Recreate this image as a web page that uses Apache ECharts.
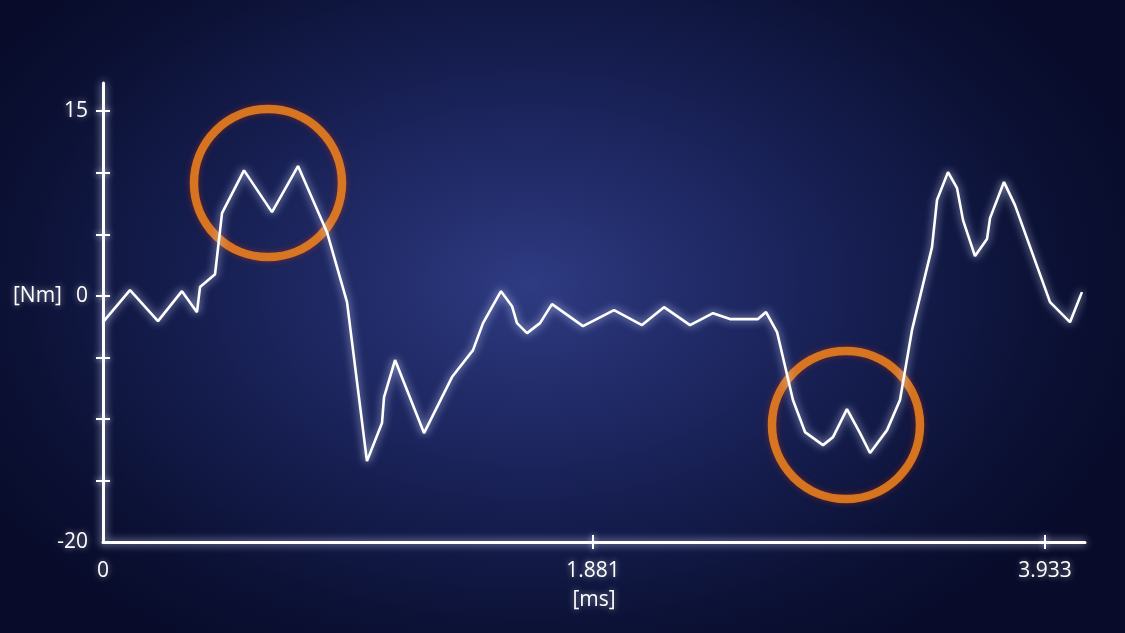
<!DOCTYPE html>
<html><head><meta charset="utf-8">
<script src="https://cdn.jsdelivr.net/npm/echarts@6/dist/echarts.min.js"></script>
<style>
html,body{margin:0;padding:0;width:1125px;height:633px;overflow:hidden;
background: radial-gradient(ellipse 640px 430px at 530px 285px, #2f3b82 0%, #222c6a 25%, #151d4e 55%, #0c1236 80%, #080b2a 100%);}
#c{width:1125px;height:633px;}
</style></head><body><div id="c"></div>
<script>
// sample position along the time window (0..100 % of window)
const samplePos = [0, 2.75, 5.60, 8.04, 9.57, 9.88, 11.41, 12.12, 14.36, 17.21, 19.86, 22.81, 24.85, 26.88, 28.41, 28.62, 29.74, 32.69, 35.54, 37.68, 38.70, 40.53, 41.65, 42.16, 43.18, 44.50, 45.72, 48.88, 52.04, 54.89, 57.13, 59.78, 62.12, 63.85, 66.70, 67.52, 68.64, 70.26, 71.49, 73.32, 74.34, 75.76, 77.09, 78.11, 79.84, 81.16, 82.38, 84.42, 84.93, 86.05, 86.97, 87.58, 88.80, 90.02, 90.33, 91.75, 92.87, 96.44, 98.47, 99.69];
// torque [Nm]
const torque = [-2.14, 0.46, -2.06, 0.38, -1.33, 0.71, 1.76, 6.72, 10.19, 6.80, 10.54, 5.17, -0.51, -13.43, -10.34, -8.23, -5.22, -11.15, -6.60, -4.41, -2.22, 0.38, -0.84, -2.22, -3.03, -2.22, -0.67, -2.46, -1.16, -2.38, -0.92, -2.38, -1.41, -1.89, -1.89, -1.32, -2.94, -8.47, -11.07, -12.13, -11.48, -9.20, -11.15, -12.77, -10.91, -8.47, -2.79, 3.96, 7.78, 10.05, 8.75, 6.15, 3.23, 4.61, 6.31, 9.24, 7.37, -0.51, -2.14, 0.30];

const xTickPos = [49.9, 95.93];
const xLabelPos = [0, 49.9, 95.93];
const xTickLabels = ['0', '1.881', '3.933'];
const yTicks = [-15, -10, -5, 0, 5, 10, 15];
const yLabelValues = [-20, 0, 15];
const yUnit = '[Nm]';
const xUnit = '[ms]';
const highlightCenters = [[16.8, 9.16], [75.66, -10.5]];

const chart = echarts.init(document.getElementById('c'), null, {renderer: 'canvas'});
const FONT = '"Open Sans", "Noto Sans", sans-serif';
const glowLine = {color: '#ffffff', width: 3, shadowBlur: 8, shadowColor: 'rgba(220,225,255,0.9)'};
const tickStyle = {color: '#fff', width: 2, shadowBlur: 6, shadowColor: 'rgba(220,225,255,0.9)'};
const txt = {color: '#ffffff', fontSize: 21, fontFamily: FONT, textShadowColor: 'rgba(255,255,255,0.55)', textShadowBlur: 6};

function xLabel(v) {
  for (let i = 0; i < xLabelPos.length; i++) if (Math.abs(xLabelPos[i] - v) < 0.01) return xTickLabels[i];
  return '';
}

const yMin = -20, yMax = 17.29;
chart.setOption({
  backgroundColor: 'transparent',
  animation: false,
  grid: {left: 103, right: 40, top: 83, bottom: 91},
  xAxis: [{
    type: 'value', min: 0, max: 100, position: 'bottom',
    axisLine: {show: true, onZero: false, lineStyle: glowLine},
    axisTick: {show: true, length: 7, customValues: xTickPos, lineStyle: tickStyle},
    axisLabel: Object.assign({customValues: xLabelPos, margin: 19, formatter: xLabel}, txt),
    splitLine: {show: false},
    name: xUnit, nameLocation: 'middle', nameGap: 48, nameTextStyle: txt
  }, {
    type: 'value', min: 0, max: 100, position: 'bottom',
    axisLine: {show: false, onZero: false},
    axisTick: {show: true, inside: true, length: 7, customValues: xTickPos, lineStyle: tickStyle},
    axisLabel: {show: false}, splitLine: {show: false}
  }],
  yAxis: [{
    type: 'value', min: yMin, max: yMax, position: 'left',
    axisLine: {show: true, onZero: false, lineStyle: glowLine},
    axisTick: {show: true, length: 7, customValues: yTicks, lineStyle: tickStyle},
    axisLabel: Object.assign({customValues: yLabelValues, margin: 15,
      formatter: v => v === 0 ? '{t|' + yUnit + '}{s|}{t|0}' : '{t|' + v + '}',
      rich: {t: Object.assign({}, txt), s: {width: 14}}}, txt),
    splitLine: {show: false}
  }, {
    type: 'value', min: yMin, max: yMax, position: 'left',
    axisLine: {show: false, onZero: false},
    axisTick: {show: true, inside: true, length: 7, customValues: yTicks, lineStyle: tickStyle},
    axisLabel: {show: false}, splitLine: {show: false}
  }],
  series: [{
    type: 'scatter', z: 2,
    data: highlightCenters,
    symbol: 'circle', symbolSize: 148,
    itemStyle: {color: 'rgba(0,0,0,0)', borderColor: '#f98a1c', borderWidth: 8.5, shadowBlur: 6, shadowColor: 'rgba(230,60,0,0.5)'},
    emphasis: {disabled: true}, silent: true
  }, {
    type: 'line', z: 3,
    data: samplePos.map((x, i) => [x, torque[i]]),
    showSymbol: false, symbol: 'none', smooth: false,
    lineStyle: {color: '#ffffff', width: 2.6, shadowBlur: 8, shadowColor: 'rgba(210,220,255,0.95)'},
    silent: true
  }]
});
</script></body></html>
